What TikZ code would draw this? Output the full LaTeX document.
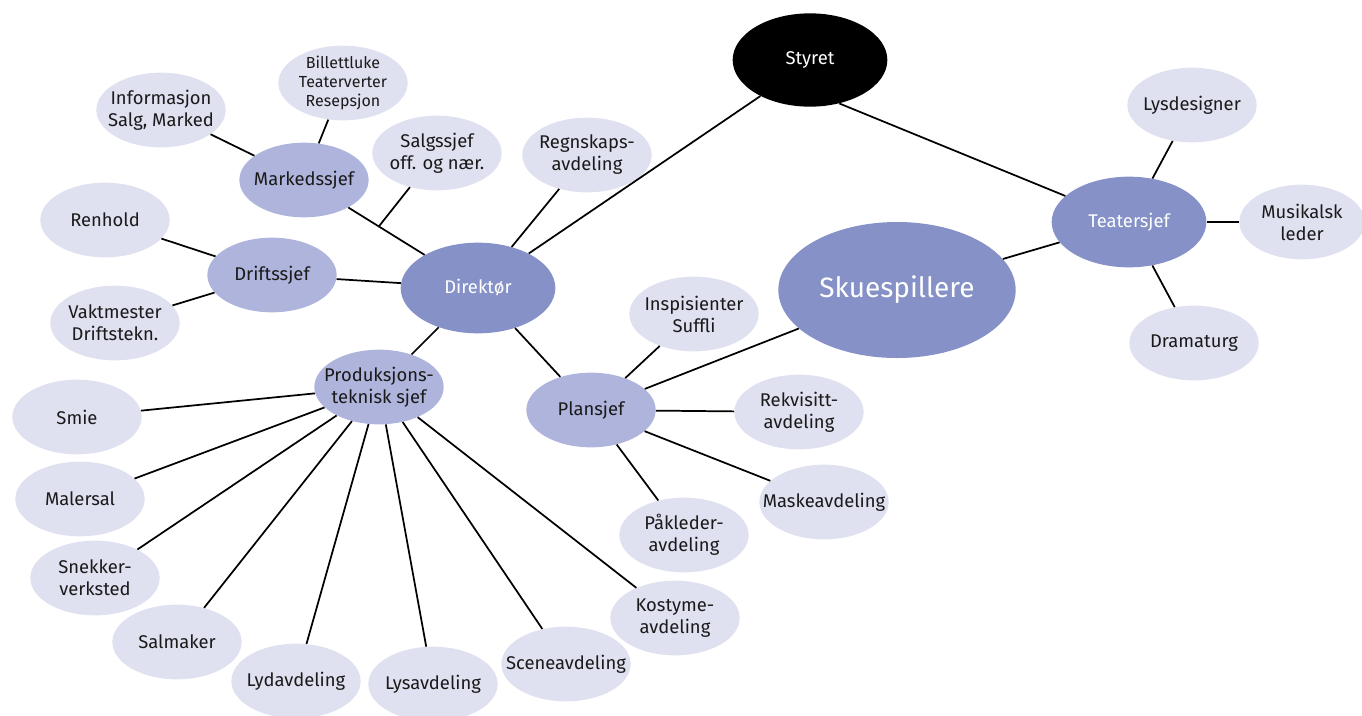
\documentclass[tikz,border=0pt]{standalone}
\usepackage{fontspec}
\setmainfont{Fira Sans}
\usetikzlibrary{shapes.geometric,calc}
\definecolor{lite}{HTML}{E0E1F0}
\definecolor{mid}{HTML}{AEB4DB}
\definecolor{dark}{HTML}{8591C7}
\definecolor{txt}{HTML}{1A1A1A}
\tikzset{
  bub/.style={ellipse, inner sep=0pt, minimum width=97pt, minimum height=56pt},
  lt/.style={bub, fill=lite},
  md/.style={bub, fill=mid},
  dk/.style={bub, fill=dark, minimum width=116pt, minimum height=68pt},
  t/.style={label={[align=center, text=txt, font=\fontsize{13.8}{16.5}\selectfont]center:#1}},
  ts/.style={label={[align=center, text=txt, font=\fontsize{12}{14.2}\selectfont]center:#1}},
  tw/.style={label={[align=center, text=white, font=\fontsize{13.8}{16}\selectfont]center:#1}},
  tb/.style={label={[align=center, text=white, font=\fontsize{21}{24}\selectfont]center:#1}},
  link/.style={draw=black, line width=1.3pt}
}
\begin{document}
\begin{tikzpicture}[x=0.75pt,y=-0.75pt]
\useasboundingbox (0,0) rectangle (1362,715);
% top
\node[bub, fill=black, minimum width=116pt, minimum height=70pt, tw={Styret}] (sty) at (810,60) {};
% right
\node[dk, tw={Teatersjef}] (tea) at (1129,222) {};
\node[lt, t={Lysdesigner}] (lysd) at (1192,105) {};
\node[lt, minimum width=94pt, t={Musikalsk\\leder}] (mus) at (1302,222) {};
\node[lt, t={Dramaturg}] (dram) at (1194,343) {};
\node[dk, minimum width=178pt, minimum height=102pt, tb={Skuespillere}] (sku) at (897,290) {};
% centre
\node[dk, tw={Direktør}] (dir) at (478,288) {};
\node[md, t={Markedssjef}] (mark) at (304,180) {};
\node[lt, t={Informasjon\\Salg, Marked}] (info) at (161,110) {};
\node[lt, ts={Billettluke\\Teaterverter\\Resepsjon}] (bill) at (343,83) {};
\node[lt, t={Salgssjef\\off. og nær.}] (salg) at (437,153) {};
\node[lt, t={Regnskaps-\\avdeling}] (regn) at (587,155) {};
\node[lt, t={Renhold}] (ren) at (105,220) {};
\node[md, t={Driftssjef}] (drift) at (272,275) {};
\node[lt, t={Vaktmester\\Driftstekn.}] (vakt) at (115,323) {};
\node[md, t={Produksjons-\\teknisk sjef}] (prod) at (379,387) {};
\node[lt, t={Smie}] (smie) at (77,417) {};
\node[lt, t={Malersal}] (maler) at (80,499) {};
\node[lt, t={Snekker-\\verksted}] (snek) at (95,578) {};
\node[lt, t={Salmaker}] (salm) at (177,642) {};
\node[lt, t={Lydavdeling}] (lyd) at (296,681) {};
\node[lt, t={Lysavdeling}] (lys) at (433,684) {};
\node[lt, t={Sceneavdeling}] (scene) at (566,664) {};
\node[lt, t={Kostyme-\\avdeling}] (kost) at (675,618) {};
\node[md, t={Plansjef}] (plan) at (591,410) {};
\node[lt, t={Inspisienter\\Suffli}] (insp) at (694,314) {};
\node[lt, t={Rekvisitt-\\avdeling}] (rekv) at (799,412) {};
\node[lt, t={Maskeavdeling}] (mask) at (824,502) {};
\node[lt, t={Påkleder-\\avdeling}] (pakl) at (684,535) {};
% links
\coordinate (jn) at ($(mark)!0.43!(dir)$);
\draw[link] (info) -- (mark);
\draw[link] (bill) -- (mark);
\draw[link] (mark) -- (dir);
\draw[link] (salg) -- (jn);
\draw[link] (regn) -- (dir);
\draw[link] (sty.-144) -- (dir);
\draw[link] (sty.-56) -- (tea);
\draw[link] (lysd) -- (tea);
\draw[link] (mus) -- (tea);
\draw[link] (dram) -- (tea);
\draw[link] (sku) -- (tea);
\draw[link] (ren) -- (drift);
\draw[link] (vakt) -- (drift);
\draw[link] (drift) -- (dir);
\draw[link] (dir) -- (prod);
\draw[link] (dir) -- (plan);
\draw[link] (plan) -- (insp);
\draw[link] (plan) -- (sku);
\draw[link] (plan) -- (rekv);
\draw[link] (plan) -- (mask);
\draw[link] (plan) -- (pakl);
\foreach \t in {smie,maler,snek,salm,lyd,lys,scene,kost}
  \draw[link] (prod) -- (\t);
\end{tikzpicture}
\end{document}
